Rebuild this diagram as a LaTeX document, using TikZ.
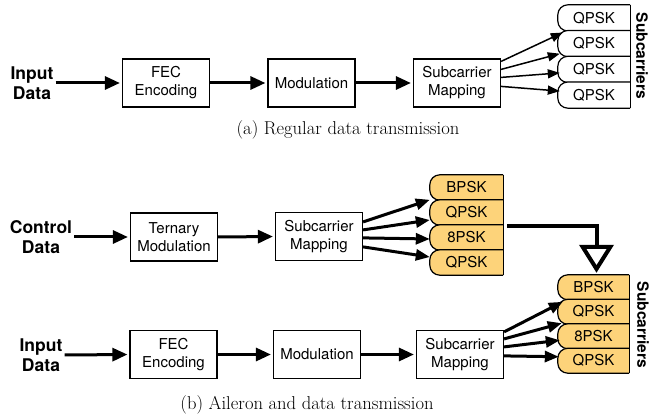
\documentclass[tikz,border=0pt]{standalone}
\usepackage{fontspec}
\newfontfamily\hv{TeX Gyre Heros}
\usetikzlibrary{arrows.meta,backgrounds,calc}
\definecolor{subor}{RGB}{253,211,122}
\begin{document}
\begin{tikzpicture}[x=1pt,y=-1pt,
 blk/.style={draw, line width=1.2pt, minimum width=87pt, minimum height=48pt, inner sep=0pt, align=center, font=\hv\fontsize{15}{18}\selectfont},
 lbl/.style={align=center, font=\hv\bfseries\fontsize{17.5}{20}\selectfont, inner sep=0pt},
 scA/.style={minimum width=72pt, minimum height=25.75pt, inner sep=0pt, font=\hv\fontsize{15}{18}\selectfont},
 scB/.style={minimum width=73pt, minimum height=25pt, inner sep=0pt, font=\hv\fontsize{15}{18}\selectfont},
 scC/.style={minimum width=71pt, minimum height=24.5pt, inner sep=0pt, font=\hv\fontsize{15}{18}\selectfont},
 flow/.style={line width=3pt, -{Triangle[length=15pt,width=13pt]}, shorten >=2pt},
 fanA/.style={line width=1.5pt, -{Triangle[length=12pt,width=9pt]}},
 fanB/.style={line width=3pt, -{Triangle[length=14pt,width=11pt]}},
 captxt/.style={font=\fontsize{18.6}{22}\selectfont, inner sep=0pt},
 sideways/.style={rotate=-90, font=\hv\bfseries\fontsize{15.5}{18}\selectfont, inner sep=0pt}]
\useasboundingbox (0,0) rectangle (649,417);

% ---------- (a) ----------
\node[lbl] (inA) at (32,83) {Input\\Data};
\node[blk] (fecA) at (166,83) {FEC\\Encoding};
\node[blk] (modA) at (311.5,83) {Modulation};
\node[blk] (mapA) at (457,83) {Subcarrier\\Mapping};
\foreach \i/\y in {1/17.9,2/43.6,3/69.4,4/95.1}
  \node[scA] (qa\i) at (594,\y) {QPSK};
\node[sideways] (subA) at (642,56) {Subcarriers};
\node[captxt] (capA) at (348,130) {(a) Regular data transmission};

\draw[flow] ([xshift=2pt]inA.east) -- (fecA.west);
\draw[flow] (fecA.east) -- (modA.west);
\draw[flow] (modA.east) -- (mapA.west);
\draw[fanA] ($(mapA.north east)+(0,3)$) -- ($(qa2.north west)+(5,2)$);
\draw[fanA] ($(mapA.north east)+(0,11)$) -- ($(qa2.south west)+(2,-3)$);
\draw[fanA] ($(mapA.north east)+(0,19)$) -- ($(qa3.west)+(2,3.5)$);
\draw[fanA] ($(mapA.north east)+(0,28)$) -- ($(qa4.west)+(2,-4)$);

% ---------- (b) ----------
\node[lbl] (ctl) at (41,237) {Control\\Data};
\node[blk] (ter) at (174,237) {Ternary\\Modulation};
\node[blk] (mapB) at (319,236.5) {Subcarrier\\Mapping};
\foreach \i/\t/\y in {1/BPSK/187.5,2/QPSK/212.5,3/8PSK/237.5,4/QPSK/262.5}
  \node[scB] (ob\i) at (466.5,\y) {\t};

\node[lbl] (inB) at (41,355) {Input\\Data};
\node[blk] (fecB) at (173.5,354.5) {FEC\\Encoding};
\node[blk] (modB) at (317,354.5) {Modulation};
\node[blk] (mapC) at (460,354.5) {Subcarrier\\Mapping};
\foreach \i/\t/\y in {1/BPSK/287.25,2/QPSK/311.75,3/8PSK/336.25,4/QPSK/360.75}
  \node[scC] (lb\i) at (593.5,\y) {\t};
\node[sideways] (subB) at (643,325) {Subcarriers};
\node[captxt] (capB) at (307,405) {(b) Aileron and data transmission};

\draw[flow] ([xshift=2pt]ctl.east) -- (ter.west);
\draw[flow] (ter.east) -- (mapB.west);
\draw[fanB] ($(mapB.north east)+(0,10)$) -- (ob2.north west);
\draw[fanB] ($(mapB.north east)+(0,18)$) -- ($(ob2.west)+(0,7.5)$);
\draw[fanB] ($(mapB.north east)+(0,26)$) -- ($(ob3.west)+(0,1.5)$);
\draw[fanB] ($(mapB.north east)+(0,35)$) -- ($(ob4.west)+(0,-5.5)$);

\draw[flow] ([xshift=2pt]inB.east) -- (fecB.west);
\draw[flow] (fecB.east) -- (modB.west);
\draw[flow] (modB.east) -- (mapC.west);
\draw[fanB] ($(mapC.north east)+(0,2)$) -- ($(lb2.north west)+(5,2.5)$);
\draw[fanB] ($(mapC.north east)+(0,9)$) -- ($(lb2.south west)+(4,-1)$);
\draw[fanB] ($(mapC.north east)+(0,17)$) -- ($(lb3.west)+(2,4)$);
\draw[fanB] ($(mapC.north east)+(0,26)$) -- ($(lb4.west)+(1,-4)$);

\coordinate (cs) at (507,226);
\draw[line width=4pt, -{Triangle[open,length=28pt,width=34pt]}] (cs) -| ($(lb1.north)+(3,-2)$);

% ---------- subcarrier shapes ----------
\begin{pgfonlayer}{background}
\foreach \n in {qa1,qa2,qa3,qa4}{
  \filldraw[fill=white, line width=1.2pt, rounded corners=10pt] (\n.north east) -- (\n.north west) -- (\n.south west) -- (\n.south east);
  \draw[line width=1.2pt] (\n.north east) -- (\n.south east);
}
\foreach \n in {ob1,ob2,ob3,ob4,lb1,lb2,lb3,lb4}{
  \filldraw[fill=subor, line width=1.2pt, rounded corners=10pt] (\n.north east) -- (\n.north west) -- (\n.south west) -- (\n.south east);
  \draw[line width=1.2pt] (\n.north east) -- (\n.south east);
}
\end{pgfonlayer}
\end{tikzpicture}
\end{document}
